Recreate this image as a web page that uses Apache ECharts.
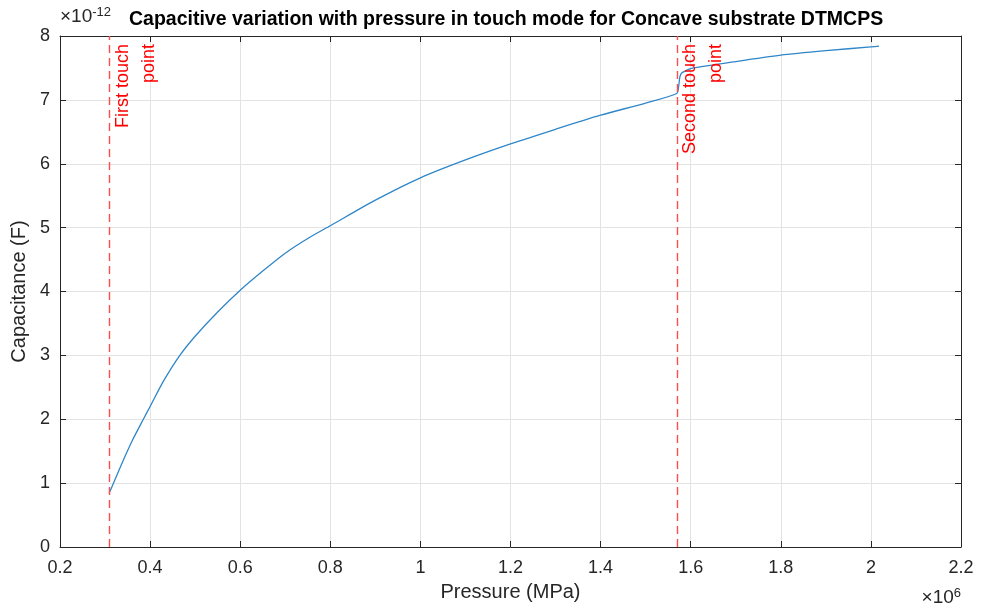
<!DOCTYPE html>
<html><head><meta charset="utf-8">
<script src="https://cdn.jsdelivr.net/npm/echarts@6/dist/echarts.min.js"></script>
<style>html,body{margin:0;padding:0;background:#fff}#c{width:989px;height:607px}</style>
</head><body><div id="c"></div>
<script>
// Pressure (x 10^6) and capacitance (x 10^-12 F)
const pressure = [0.309,0.32,0.34,0.36,0.385,0.4,0.43,0.466,0.5,0.55,0.6,0.65,0.7,0.75,0.8,0.9,1.0,1.1,1.2,1.3,1.4,1.5,1.569,1.573,1.576,1.58,1.59,1.6,1.7,1.8,1.9,2.0,2.018];
const capacitance = [0.84,1.02,1.35,1.66,2.0,2.2,2.6,3.0,3.3,3.68,4.02,4.32,4.6,4.83,5.03,5.43,5.78,6.06,6.31,6.54,6.76,6.95,7.10,7.20,7.36,7.42,7.46,7.49,7.60,7.70,7.77,7.83,7.84];
const touchPressure = [0.31, 1.57];
const touchLabels = ["First touch\npoint", "Second touch\npoint"];
const xTicks = {min:0.2, max:2.2, interval:0.2};
const yTicks = {min:0, max:8, interval:1};
const titleText = "Capacitive variation with pressure in touch mode for Concave substrate DTMCPS";

const FONT = "'Liberation Sans', Arial, sans-serif";
const AX = '#262626';
const chart = echarts.init(document.getElementById('c'), null, {renderer:'canvas'});
const axisCommon = {
  axisLine:{show:true, onZero:false, lineStyle:{color:AX, width:1}},
  axisTick:{show:true, inside:true, length:6, lineStyle:{color:AX}},
};
const series = [{
  type:'line', data: pressure.map((p,i)=>[p, capacitance[i]]), showSymbol:false,
  smooth:0.25,
  lineStyle:{color:'#2f86c8', width:1.3}, itemStyle:{color:'#2f86c8'}, animation:false,
  markLine:{
    symbol:['none','none'], silent:true, animation:false,
    lineStyle:{color:'#ff4d4d', opacity:1, type:[8,5], width:1.4},
    emphasis:{disabled:true},
    label:{show:true, position:'insideEndBottom', color:'#ff0000', fontFamily:FONT, fontSize:18, lineHeight:26, distance:[8,0]},
    data: touchPressure.map((p,i)=>[
      {coord:[p, yTicks.min], label:{formatter:touchLabels[i]}, lineStyle:{color:'#ff4d4d'}},
      {coord:[p, yTicks.max]}
    ])
  }
}];
chart.setOption({
  animation:false,
  backgroundColor:'#fff',
  grid:{left:60, right:28, top:36, bottom:59, containLabel:false},
  title:{text:titleText, left:124, top:5, textStyle:{fontFamily:FONT, fontSize:19.5, fontWeight:'bold', color:'#000'}},
  xAxis:[
    Object.assign({type:'value', position:'bottom', min:xTicks.min, max:xTicks.max, interval:xTicks.interval,
      name:'Pressure (MPa)', nameLocation:'middle', nameGap:35,
      nameTextStyle:{fontFamily:FONT, fontSize:20, color:AX},
      axisLabel:{fontFamily:FONT, fontSize:18, color:AX, margin:12},
      splitLine:{show:true, lineStyle:{color:'#e3e3e3', width:1}}}, axisCommon),
    Object.assign({type:'value', position:'top', min:xTicks.min, max:xTicks.max, interval:xTicks.interval,
      axisLabel:{show:false}, splitLine:{show:false}}, axisCommon)
  ],
  yAxis:[
    Object.assign({type:'value', position:'left', min:yTicks.min, max:yTicks.max, interval:yTicks.interval,
      name:'Capacitance (F)', nameLocation:'middle', nameGap:26,
      nameTextStyle:{fontFamily:FONT, fontSize:20, color:AX},
      axisLabel:{fontFamily:FONT, fontSize:18, color:AX, margin:10},
      splitLine:{show:true, lineStyle:{color:'#e3e3e3', width:1}}}, axisCommon),
    Object.assign({type:'value', position:'right', min:yTicks.min, max:yTicks.max, interval:yTicks.interval,
      axisLabel:{show:false}, splitLine:{show:false}}, axisCommon)
  ],
  graphic:[
    {type:'text', left:60, top:6, style:{text:'×10{s|-12}', fontFamily:FONT, fontSize:19, fill:AX,
      rich:{s:{fontSize:13, verticalAlign:'top', fontFamily:FONT, fill:AX, padding:[0,0,9,0]}}}},
    {type:'text', right:28, bottom:0, style:{text:'×10{s|6}', fontFamily:FONT, fontSize:19, fill:AX,
      rich:{s:{fontSize:13, fontFamily:FONT, fill:AX, padding:[0,0,9,0]}}}}
  ],
  series: series
});
</script></body></html>
